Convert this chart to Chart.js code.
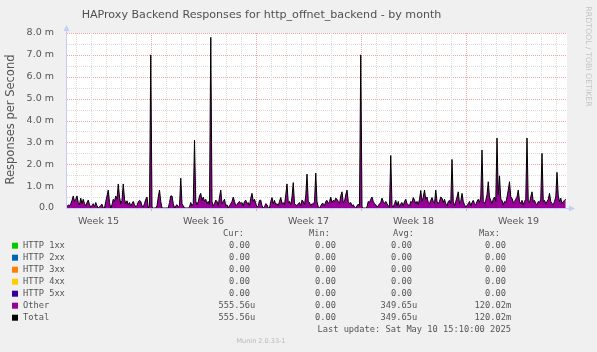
<!DOCTYPE html>
<html>
<head>
<meta charset="utf-8">
<script src="https://cdn.jsdelivr.net/npm/chart.js@4.4.0/dist/chart.umd.min.js"></script>
<style>
  html, body { margin: 0; padding: 0; background: #f0f0f0; }
  #chart1 { display: block; }
</style>
</head>
<body>
<canvas id="chart1" width="597" height="352"></canvas>
<script>
// munin "by month" view: 2 hour samples, time in days from monday of week 15
const startDay = 1.4
const stepDays = 1 / 12
const axisMaxDay = 34.733

// Other responses per second, in milli (m) units
const otherRate = [
  0.05,0.14,0.10,0.20,0.35,0.55,0.30,0.40,0.55,0.25,0.15,0.45,0.20,0.40,0.20,0.10,0.25,0.36,0.15,0.05,
  0.10,0.20,0.05,0.25,0.10,0.00,0.05,0.12,0.17,0.00,0.00,0.30,0.55,0.82,0.25,0.00,0.15,0.40,0.30,0.55,
  0.40,1.10,0.50,0.20,0.35,1.10,0.40,0.20,0.33,0.15,0.25,0.10,0.20,0.30,0.15,0.05,0.12,0.28,0.35,0.30,
  0.10,0.05,0.20,0.40,0.50,0.00,0.10,7.00,0.05,0.00,0.00,0.00,0.10,0.50,0.82,0.30,0.00,0.00,0.00,0.00,
  0.00,0.00,0.25,0.55,0.55,0.20,0.00,0.10,0.15,0.05,0.10,1.36,0.20,0.10,0.00,0.00,0.00,0.00,0.05,0.25,
  0.10,0.20,3.10,0.30,0.15,0.30,0.55,0.67,0.35,0.50,0.30,0.40,0.20,0.30,0.15,7.80,0.30,0.10,0.20,0.36,
  0.30,0.10,0.50,0.82,0.20,0.30,0.40,0.10,0.15,0.00,0.10,0.20,0.30,0.50,0.30,0.10,0.15,0.25,0.30,0.20,
  0.25,0.10,0.30,0.36,0.20,0.25,0.10,0.45,0.67,0.30,0.40,0.20,0.05,0.10,0.35,0.36,0.10,0.00,0.05,0.20,
  0.15,0.00,0.00,0.30,0.48,0.20,0.35,0.15,0.20,0.10,0.30,0.48,0.20,0.25,0.15,0.60,1.10,0.25,0.30,0.15,
  0.50,1.16,0.20,0.15,0.10,0.20,0.25,0.10,0.36,0.30,0.15,0.55,1.55,0.30,0.25,0.10,0.20,0.15,0.30,1.60,
  0.30,0.05,0.00,0.10,0.20,0.20,0.10,0.30,0.35,0.20,0.30,0.50,0.25,0.35,0.30,0.45,0.40,0.30,0.20,0.55,
  0.74,0.25,0.30,0.60,0.82,0.30,0.20,0.25,0.10,0.15,0.05,0.00,0.10,0.18,0.10,7.00,0.05,0.00,0.00,0.00,
  0.05,0.30,0.25,0.40,0.50,0.30,0.20,0.15,0.05,0.10,0.20,0.25,0.45,0.30,0.20,0.30,0.20,0.10,0.05,2.40,
  0.10,0.05,0.20,0.35,0.10,0.30,0.05,0.20,0.25,0.10,0.30,0.40,0.20,0.15,0.10,0.30,0.25,0.48,0.36,0.20,
  0.30,0.15,0.40,0.80,0.30,0.50,0.82,0.40,0.50,0.25,0.20,0.35,0.48,0.30,0.20,0.82,0.30,0.20,0.30,0.50,
  0.45,0.25,0.40,0.20,0.10,0.30,0.35,0.20,2.22,0.30,0.10,0.30,0.50,0.74,0.20,0.30,0.67,0.30,0.15,0.05,
  0.10,0.20,0.30,0.10,0.25,0.35,0.20,0.15,0.30,0.40,0.25,0.50,2.65,0.30,0.20,0.35,0.60,1.20,0.50,0.35,
  0.20,0.40,0.50,0.30,3.20,0.60,1.47,0.40,0.35,0.15,0.30,0.25,0.50,0.82,1.20,0.50,0.45,0.25,0.30,0.40,
  0.50,0.82,0.30,0.20,0.35,0.15,0.30,0.40,3.20,0.30,0.25,0.50,0.74,0.30,0.35,0.20,0.15,0.30,0.25,0.40,
  2.50,0.30,0.35,0.20,0.30,0.40,0.67,0.30,0.20,0.15,0.30,0.50,1.63,0.55,0.30,0.45,0.20,0.30,0.35,0.40
]
// HTTP 1xx..5xx are zero the whole month, so Total is the same as Other
const totalRate = otherRate

const weekLabels = ['Week 15', 'Week 16', 'Week 17', 'Week 18', 'Week 19']
const weekCenters = [3.5, 10.5, 17.5, 24.5, 31.5]
const yMax = 8
const yStep = 0.5

// legend table
const seriesNames = ['HTTP 1xx', 'HTTP 2xx', 'HTTP 3xx', 'HTTP 4xx', 'HTTP 5xx', 'Other', 'Total']
const seriesColors = ['#00cc00', '#0066b3', '#ff8000', '#ffcc00', '#330099', '#990099', '#000000']
const curVals = ['0.00', '0.00', '0.00', '0.00', '0.00', '555.56u', '555.56u']
const minVals = ['0.00', '0.00', '0.00', '0.00', '0.00', '0.00', '0.00']
const avgVals = ['0.00', '0.00', '0.00', '0.00', '0.00', '349.65u', '349.65u']
const maxVals = ['0.00', '0.00', '0.00', '0.00', '0.00', '120.02m', '120.02m']

const titleText = 'HAProxy Backend Responses for http_offnet_backend - by month'
const yTitle = 'Responses per Second'
const lastUpdate = 'Last update: Sat May 10 15:10:00 2025'
const footerText = 'Munin 2.0.33-1'
const watermark = 'RRDTOOL / TOBI OETIKER'

const points = otherRate.map((v, i) => ({ x: startDay + i * stepDays, y: v }))
const totalPoints = totalRate.map((v, i) => ({ x: startDay + i * stepDays, y: v }))

const MONO = '"DejaVu Sans Mono", monospace'
const SANS = '"DejaVu Sans", sans-serif'
const MINOR = '#dcdcdc'
const MAJOR = '#f2a4a4'

const munin = {
  id: 'munin',
  beforeDraw(chart) {
    const { ctx, chartArea: a } = chart
    ctx.save()
    ctx.fillStyle = '#f0f0f0'
    ctx.fillRect(0, 0, chart.width, chart.height)
    ctx.fillStyle = '#ffffff'
    ctx.fillRect(a.left, a.top, a.right - a.left, a.bottom - a.top)
    ctx.restore()
  },
  beforeDatasetsDraw(chart) {
    // rrdtool style dotted grid, one pixel dots
    const { ctx, chartArea: a, scales } = chart
    const L = Math.round(a.left), R = Math.round(a.right)
    const T = Math.round(a.top), B = Math.round(a.bottom)
    ctx.save()
    for (let v = yStep; v <= yMax; v += yStep) {
      const y = Math.round(scales.y.getPixelForValue(v))
      ctx.fillStyle = v % 1 === 0 ? MAJOR : MINOR
      for (let x = L; x < R; x += 2) ctx.fillRect(x, y, 1, 1)
    }
    for (let d = 2; d <= 34; d++) {
      const x = Math.round(scales.x.getPixelForValue(d))
      const major = d % 7 === 0
      ctx.fillStyle = major ? MAJOR : MINOR
      for (let y = T; y < B; y += 2) ctx.fillRect(x, y, 1, 1)
      ctx.fillRect(x, B + 1, 1, major ? 2 : 1)
    }
    ctx.restore()
  },
  afterDraw(chart) {
    const { ctx, chartArea: a } = chart
    ctx.save()

    // axes with arrows
    ctx.strokeStyle = '#c8ccf4'
    ctx.fillStyle = '#c8ccf4'
    ctx.lineWidth = 1
    ctx.beginPath()
    ctx.moveTo(a.left - 0.5, a.bottom + 0.5)
    ctx.lineTo(a.right + 4, a.bottom + 0.5)
    ctx.moveTo(a.left - 0.5, a.bottom + 0.5)
    ctx.lineTo(a.left - 0.5, a.top - 4)
    ctx.stroke()
    ctx.beginPath()
    ctx.moveTo(a.right + 8, a.bottom + 0.5)
    ctx.lineTo(a.right + 2, a.bottom - 2.5)
    ctx.lineTo(a.right + 2, a.bottom + 3.5)
    ctx.fill()
    ctx.beginPath()
    ctx.moveTo(a.left - 0.5, a.top - 8)
    ctx.lineTo(a.left - 3.5, a.top - 2)
    ctx.lineTo(a.left + 2.5, a.top - 2)
    ctx.fill()

    // title
    ctx.fillStyle = '#505050'
    ctx.font = '11.1px ' + SANS
    ctx.textAlign = 'center'
    ctx.textBaseline = 'alphabetic'
    ctx.fillText(titleText, 261.5, 18)

    // y title
    ctx.save()
    ctx.translate(14, 119.5)
    ctx.rotate(-Math.PI / 2)
    ctx.font = '11.5px ' + SANS
    ctx.fillStyle = '#555555'
    ctx.textBaseline = 'alphabetic'
    ctx.fillText(yTitle, 0, 0)
    ctx.restore()

    // watermark
    ctx.save()
    ctx.translate(588, 56.5)
    ctx.rotate(Math.PI / 2)
    ctx.font = '7.8px ' + SANS
    ctx.fillStyle = '#c4c4c4'
    ctx.textAlign = 'center'
    ctx.textBaseline = 'middle'
    ctx.fillText(watermark, 0, 0)
    ctx.restore()

    // legend
    ctx.font = '8.7px ' + MONO
    ctx.fillStyle = '#555555'
    ctx.textBaseline = 'middle'
    ctx.textAlign = 'right'
    const headY = 234
    ctx.fillText('Cur:', 244, headY)
    ctx.fillText('Min:', 330, headY)
    ctx.fillText('Avg:', 414, headY)
    ctx.fillText('Max:', 500, headY)
    const cols = [[curVals, 250], [minVals, 336], [avgVals, 412], [maxVals, 506]]
    seriesNames.forEach((name, r) => {
      const y = 245.7 + r * 12
      ctx.fillStyle = seriesColors[r]
      ctx.fillRect(12, y - 3, 6, 6)
      ctx.fillStyle = '#555555'
      ctx.textAlign = 'left'
      ctx.fillText(name, 23, y)
      cols.forEach(([vals, xr]) => {
        const m = vals[r].match(/^([\d.]+)(\D?)$/)
        ctx.textAlign = 'right'
        ctx.fillText(m[1], xr, y)
        if (m[2]) {
          ctx.textAlign = 'left'
          ctx.fillText(m[2], xr, y)
        }
      })
    })
    ctx.textAlign = 'right'
    ctx.fillText(lastUpdate, 511, 329.5)

    ctx.font = '6.5px ' + SANS
    ctx.fillStyle = '#b8b8b8'
    ctx.textAlign = 'center'
    ctx.fillText(footerText, 261, 341.5)
    ctx.restore()
  }
}

new Chart(document.getElementById('chart1'), {
  type: 'line',
  data: {
    datasets: [
      {
        label: 'Total',
        data: totalPoints,
        borderColor: '#000000',
        borderWidth: 1,
        pointRadius: 0,
        tension: 0,
        fill: false,
        order: 0
      },
      {
        label: 'Other',
        data: points,
        borderColor: '#990099',
        borderWidth: 0,
        backgroundColor: '#990099',
        pointRadius: 0,
        tension: 0,
        fill: 'origin',
        order: 1
      }
    ]
  },
  options: {
    responsive: false,
    animation: false,
    devicePixelRatio: 1,
    layout: { padding: { top: 33, right: 30, bottom: 124, left: 0 } },
    plugins: { legend: { display: false }, tooltip: { enabled: false } },
    scales: {
      x: {
        type: 'linear',
        min: startDay,
        max: axisMaxDay,
        afterFit: s => { s.height = 20 },
        afterBuildTicks: s => {
          s.ticks = weekCenters.map(c => ({ value: c }))
        },
        border: { display: false },
        grid: { display: false },
        ticks: {
          autoSkip: false,
          maxRotation: 0,
          padding: 0,
          color: '#555555',
          font: { family: 'DejaVu Sans', size: 9.5 },
          callback: v => {
            const k = weekCenters.indexOf(v)
            return k >= 0 ? weekLabels[k] : ''
          }
        }
      },
      y: {
        min: 0,
        max: yMax,
        afterFit: s => { s.width = 67 },
        border: { display: false },
        grid: { display: false },
        ticks: {
          stepSize: yStep,
          padding: 5,
          color: '#555555',
          font: { family: 'DejaVu Sans', size: 9.5 },
          callback: v => v % 1 !== 0 ? '' : (v === 0 ? '0.0' : v.toFixed(1) + ' m')
        }
      }
    }
  },
  plugins: [munin]
})
</script>
</body>
</html>
